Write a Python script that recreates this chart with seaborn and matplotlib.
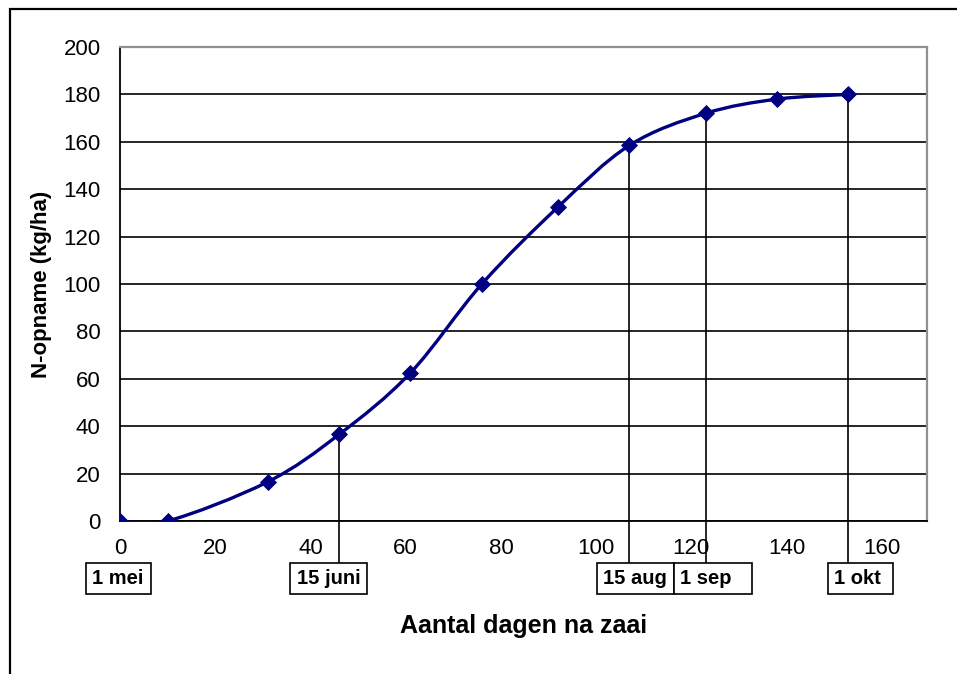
import numpy as np
import matplotlib
matplotlib.use("Agg")
import matplotlib.pyplot as plt
from matplotlib.path import Path
from matplotlib.patches import PathPatch, Rectangle
import seaborn as sns

# data
days = [0, 10, 31, 46, 61, 76, 92, 107, 123, 138, 153]
n_uptake = [0, 0, 16.5, 36.5, 62.5, 100, 132.5, 158.5, 172, 178, 180]

# dated points with a drop line
mark_days = [46, 107, 123, 153]
mark_vals = [36.5, 158.5, 172, 180]
date_labels = ["1 mei", "15 juni", "15 aug", "1 sep", "1 okt"]
# label box extents along the x axis (data units)
box_left = [-7.2, 35.8, 100.2, 116.4, 148.6]
box_right = [6.5, 51.8, 116.4, 132.8, 162.3]

x_ticks = [0, 20, 40, 60, 80, 100, 120, 140, 160]
y_ticks = [0, 20, 40, 60, 80, 100, 120, 140, 160, 180, 200]

NAVY = "#000080"

sns.set_style("white")
plt.rcParams["font.family"] = ["Liberation Sans", "DejaVu Sans"]
plt.rcParams["text.color"] = "black"
plt.rcParams["xtick.color"] = "black"
plt.rcParams["ytick.color"] = "black"
plt.rcParams["axes.labelcolor"] = "black"

fig = plt.figure(figsize=(9.57, 6.74), dpi=100)
ax = fig.add_axes([0.1254, 0.227, 0.8433, 0.7033])

# outer chart frame (only top and left edges are visible)
fig.patches.append(Rectangle((10 / 957, -0.2), 1.2, 0.2 + (674 - 9) / 674,
                             transform=fig.transFigure, fill=False,
                             edgecolor="black", lw=1.6, zorder=0))

# smoothed line (Excel style Catmull-Rom bezier)
x = np.array(days, float)
y = np.array(n_uptake, float)
verts = [(x[0], y[0])]
codes = [Path.MOVETO]
for i in range(len(x) - 1):
    x0, y0 = (x[i - 1], y[i - 1]) if i > 0 else (x[i], y[i])
    x3, y3 = (x[i + 2], y[i + 2]) if i + 2 < len(x) else (x[i + 1], y[i + 1])
    c1 = (x[i] + (x[i + 1] - x0) / 6, y[i] + (y[i + 1] - y0) / 6)
    c2 = (x[i + 1] - (x3 - x[i]) / 6, y[i + 1] - (y3 - y[i]) / 6)
    verts += [c1, c2, (x[i + 1], y[i + 1])]
    codes += [Path.CURVE4] * 3
ax.add_patch(PathPatch(Path(verts, codes), fill=False, edgecolor=NAVY,
                       lw=2.4, zorder=4))
sns.scatterplot(x=days, y=n_uptake, marker="D", s=65, color=NAVY,
                edgecolor=NAVY, ax=ax, zorder=5)

# drop lines from the dated points to the label boxes
for d, v in zip(mark_days, mark_vals):
    ax.plot([d, d], [v, -17.7], color="black", lw=1.2, clip_on=False, zorder=3)

# date text boxes below the axis
for lab, l, r in zip(date_labels, box_left, box_right):
    ax.add_patch(Rectangle((l, -30.8), r - l, 13.1, fc="white", ec="black",
                           lw=1.2, clip_on=False, zorder=6))
    ax.text(l + 1.3, -24.3, lab, ha="left", va="center", fontsize=14.5,
            fontweight="bold", clip_on=False, zorder=7)

ax.set_xlim(0, 169.5)
ax.set_ylim(0, 200)
ax.set_xticks(x_ticks)
ax.set_yticks(y_ticks)
ax.tick_params(axis="both", labelsize=16, length=6, width=1.2,
               direction="out", color="black")
ax.tick_params(axis="x", pad=6)
ax.tick_params(axis="y", pad=8)
ax.yaxis.grid(True, color="black", lw=1.2)
ax.set_axisbelow(True)

for s in ["top", "right"]:
    ax.spines[s].set_color("#909090")
    ax.spines[s].set_linewidth(1.6)
for s in ["left", "bottom"]:
    ax.spines[s].set_color("black")
    ax.spines[s].set_linewidth(1.3)

ax.set_xlabel("Aantal dagen na zaai", fontsize=18, fontweight="bold", labelpad=40)
ax.set_ylabel("N-opname (kg/ha)", fontsize=16, fontweight="bold", labelpad=8)

fig.savefig("out.png", dpi=100)
